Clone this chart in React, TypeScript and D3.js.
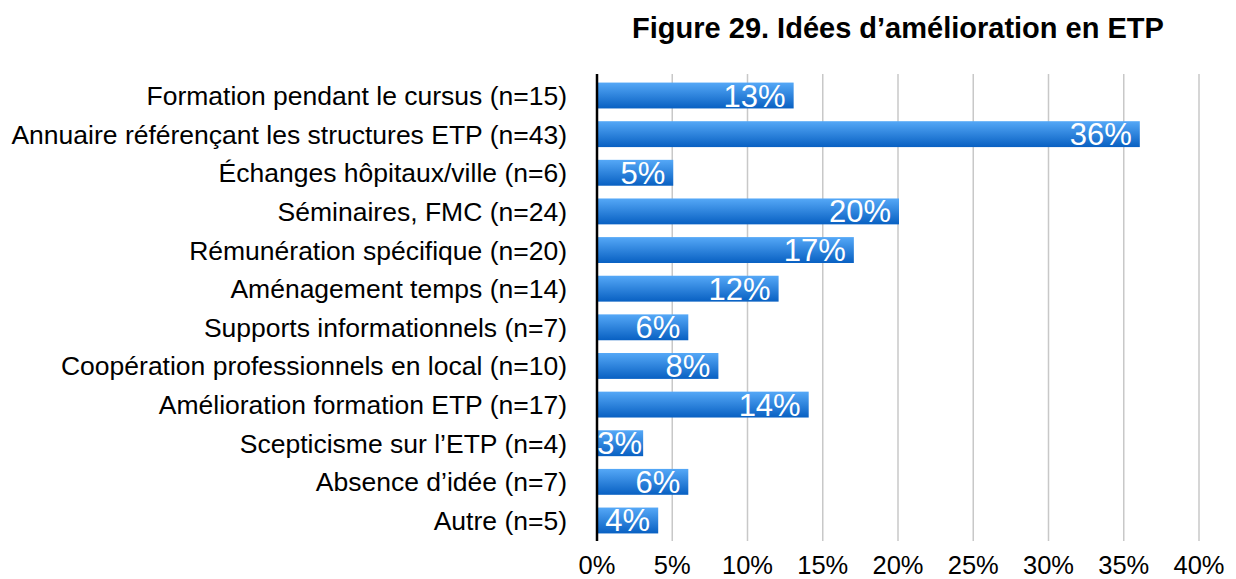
import React from 'react';
import * as d3 from 'd3';

const categories = [
  'Formation pendant le cursus (n=15)',
  'Annuaire référençant les structures ETP (n=43)',
  'Échanges hôpitaux/ville (n=6)',
  'Séminaires, FMC (n=24)',
  'Rémunération spécifique (n=20)',
  'Aménagement temps (n=14)',
  'Supports informationnels (n=7)',
  'Coopération professionnels en local (n=10)',
  'Amélioration formation ETP (n=17)',
  'Scepticisme sur l’ETP (n=4)',
  'Absence d’idée (n=7)',
  'Autre (n=5)',
];
const values = [13, 36, 5, 20, 17, 12, 6, 8, 14, 3, 6, 4];
const ticks = [0, 5, 10, 15, 20, 25, 30, 35, 40];

const W = 1236;
const H = 579;
const font = '"Liberation Sans", Arial, Helvetica, sans-serif';

export default function App() {
  const x = d3.scaleLinear().domain([0, 40]).range([597, 1199]);
  const y = d3
    .scaleBand<string>()
    .domain(categories)
    .range([76, 540])
    .paddingInner(0.33)
    .paddingOuter(0.17);
  const bh = y.bandwidth();

  return (
    <svg width={W} height={H} style={{ position: 'absolute', left: 0, top: 0 }} fontFamily={font}>
      <defs>
        <linearGradient id="barGrad" x1="0" y1="0" x2="0" y2="1">
          <stop offset="0%" stopColor="#55a8f7" />
          <stop offset="100%" stopColor="#0860c2" />
        </linearGradient>
      </defs>
      <text x={898} y={38} textAnchor="middle" fontSize={29} fontWeight="bold" fill="#000">
        Figure 29. Idées d’amélioration en ETP
      </text>
      {ticks.slice(1).map((t) => (
        <line key={t} x1={x(t)} x2={x(t)} y1={74} y2={541} stroke="#c8c8c8" strokeWidth={1.5} />
      ))}
      {categories.map((c, i) => (
        <g key={c}>
          <rect x={x(0)} y={y(c)} width={x(values[i]) - x(0) + 1} height={bh} fill="url(#barGrad)" />
          <text x={567} y={(y(c) as number) + bh / 2 + 9.5} textAnchor="end" fontSize={26.5} fill="#000">
            {c}
          </text>
        </g>
      ))}
      <line x1={x(0)} x2={x(0)} y1={74} y2={541} stroke="#000" strokeWidth={2.5} />
      {categories.map((c, i) => (
        <text
          key={c}
          x={Math.max(x(values[i]) - 7, x(0) + 45)}
          y={(y(c) as number) + bh / 2 + 11}
          textAnchor="end"
          fontSize={31}
          fill="#fff"
        >
          {values[i]}%
        </text>
      ))}
      {ticks.map((t) => (
        <text key={t} x={x(t)} y={574} textAnchor="middle" fontSize={25.5} fill="#000">
          {t}%
        </text>
      ))}
    </svg>
  );
}
